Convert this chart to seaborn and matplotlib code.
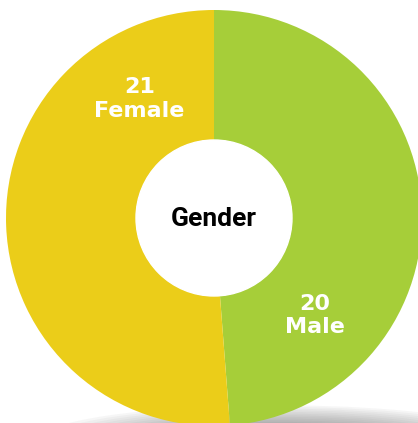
import numpy as np
import matplotlib
matplotlib.use("Agg")
import matplotlib.pyplot as plt
from matplotlib.patches import Ellipse, Circle
import seaborn as sns

# chart data
genders = ["Male", "Female"]
counts = [20, 21]
slice_colors = ["#A6CE39", "#EBCD19"]
center_label = "Gender"

sns.set_theme(style="white")
plt.rcParams['font.family'] = ['DejaVu Sans']

fig = plt.figure(figsize=(4.18, 4.23), dpi=100)
ax = fig.add_axes([0, 0, 1, 1])

# pixel frame: pie radius 208 px, centre at (214, 218) from the top-left
R = 208.0
cx, cy = 214.0, 218.0

# soft shadow under the pie
for i in range(14):
    ax.add_patch(Ellipse((0.3, -1.07), 2.3 - i * 0.09, 0.34 - i * 0.016,
                         color="#444444", alpha=0.045, lw=0, zorder=0))

wedges, _ = ax.pie(counts, colors=slice_colors, startangle=90, counterclock=False,
                   radius=1.0, wedgeprops=dict(width=0.625, edgecolor="none"),
                   center=(0, 0), frame=True)
ax.set_xlim(-cx / R, (418 - cx) / R)
ax.set_ylim(-(423 - cy) / R, cy / R)
ax.set_aspect("auto")
ax.axis("off")
for w in wedges:
    w.set_zorder(2)

ax.add_patch(Circle((0, 0), 0.375, color="white", zorder=3))
ax.text(0, -0.005, center_label, ha="center", va="center", fontsize=19,
        fontweight="bold", color="black",
        family=["Liberation Sans Narrow", "Roboto", "DejaVu Sans"], zorder=4)

# value labels placed in the ring
label_angles = {"Female": 122, "Male": -44}
for g, c in zip(genders, counts):
    a = np.deg2rad(label_angles[g])
    x, y = 0.675 * np.cos(a), 0.675 * np.sin(a)
    ax.text(x, y, f"{c}\n{g}", ha="center", va="center", fontsize=16,
            fontweight="bold", color="white", linespacing=1.2, zorder=4)

fig.savefig("out.png", dpi=100)
